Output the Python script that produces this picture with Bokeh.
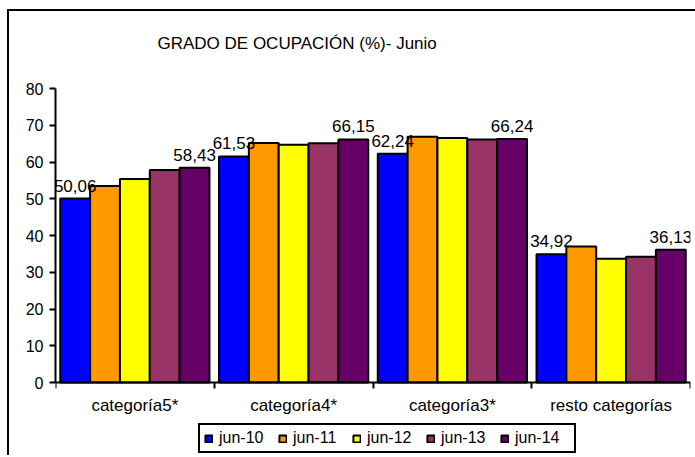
import numpy as np
from bokeh.plotting import figure
from bokeh.models import (Range1d, FixedTicker, Legend, LegendItem,
                          ColumnDataSource, Title)
from bokeh.transform import dodge
from bokeh.core.properties import value
from bokeh.embed import file_html
from bokeh.resources import INLINE

categories = ["categoría5*", "categoría4*", "categoría3*", "resto categorías"]
series = ["jun-10", "jun-11", "jun-12", "jun-13", "jun-14"]
jun10 = [50.06, 61.53, 62.24, 34.92]
jun11 = [53.5, 65.2, 66.9, 37.0]
jun12 = [55.4, 64.7, 66.5, 33.7]
jun13 = [57.8, 65.1, 66.1, 34.2]
jun14 = [58.43, 66.15, 66.24, 36.13]
colors = ["#0000FF", "#FF9900", "#FFFF00", "#993366", "#660066"]
y_ticks = [0, 10, 20, 30, 40, 50, 60, 70, 80]
title_text = "GRADO DE OCUPACIÓN (%)- Junio"

FONT = "Liberation Sans"
values = [jun10, jun11, jun12, jun13, jun14]
centers = list(np.arange(len(categories)) + 0.5)
bounds = list(np.arange(len(categories) + 1).astype(float))

data = {"xc": centers}
for s, v in zip(series, values):
    data[s] = v
source = ColumnDataSource(data)

# the plot area extends below zero to hold the category labels and legend
p = figure(frame_width=635, frame_height=367, x_range=Range1d(0, len(categories)),
           y_range=Range1d(-19.86, 80), output_backend="svg", toolbar_location=None,
           min_border_left=46, min_border_right=5, min_border_top=77,
           min_border_bottom=0)
p.styles = {"border-left": "2px solid black", "border-top": "2px solid black",
            "margin-left": "7px", "margin-top": "9px"}
p.xgrid.visible = False
p.ygrid.visible = False
p.outline_line_color = None

bw = 0.188
n = len(series)
renderers = []
for i, (s, c) in enumerate(zip(series, colors)):
    off = (i - (n - 1) / 2) * bw
    r = p.vbar(x=dodge("xc", off), top=s, bottom=0, width=bw, source=source,
               fill_color=c, line_color="black", line_width=2)
    renderers.append(r)

# data labels for first and last series
for i in (0, n - 1):
    off = (i - (n - 1) / 2) * bw
    lab = ColumnDataSource({"x": [c + off for c in centers], "y": values[i],
                            "t": [f"{v:.2f}".replace(".", ",") for v in values[i]]})
    p.text(x="x", y="y", text="t", source=lab, text_align="center",
           text_baseline="alphabetic", y_offset=-13, text_color="black",
           text_font=value(FONT), text_font_size="17px")

# real title (outermost in the top panel)
p.title.text = title_text
p.title.text_font = FONT
p.title.text_font_size = "17px"
p.title.text_font_style = "normal"
p.title.text_color = "black"
p.title.align = "left"
p.title.offset = 102
p.title.standoff = 0

# white spacer title placed nearest the plot area
p.add_layout(Title(text=".", text_font_size="4px", text_color="white",
                   standoff=31), "above")

# axes
ya = p.yaxis[0]
ya.ticker = FixedTicker(ticks=y_ticks)
ya.bounds = (0, 80)
ya.axis_line_width = 2
ya.major_tick_line_width = 2
ya.major_tick_out = 6
ya.major_tick_in = 0
ya.minor_tick_line_color = None
ya.major_label_text_font = FONT
ya.major_label_text_font_size = "16px"
ya.major_label_text_color = "black"
ya.major_label_standoff = 6

xa = p.xaxis[0]
xa.fixed_location = 0
xa.ticker = FixedTicker(ticks=centers, minor_ticks=bounds)
xa.major_label_overrides = {float(c): cat for c, cat in zip(centers, categories)}
xa.axis_line_width = 2
xa.major_tick_line_color = None
xa.major_tick_out = 0
xa.major_tick_in = 0
xa.minor_tick_line_width = 2
xa.minor_tick_out = 6
xa.minor_tick_in = 0
xa.minor_tick_line_color = "black"
xa.major_label_text_font = FONT
xa.major_label_text_font_size = "17px"
xa.major_label_text_color = "black"
xa.major_label_standoff = 7

legend = Legend(items=[LegendItem(label=s, renderers=[r]) for s, r in zip(series, renderers)],
                orientation="horizontal", location=(143, 2),
                border_line_color="black", border_line_width=2, border_line_alpha=1,
                padding=4, spacing=4, margin=0, label_standoff=6,
                glyph_width=9, glyph_height=9, label_width=55,
                label_text_font=FONT, label_text_font_size="16px",
                label_text_color="black", label_height=16)
p.add_layout(legend)

open("out.html", "w").write(file_html(p, INLINE))
